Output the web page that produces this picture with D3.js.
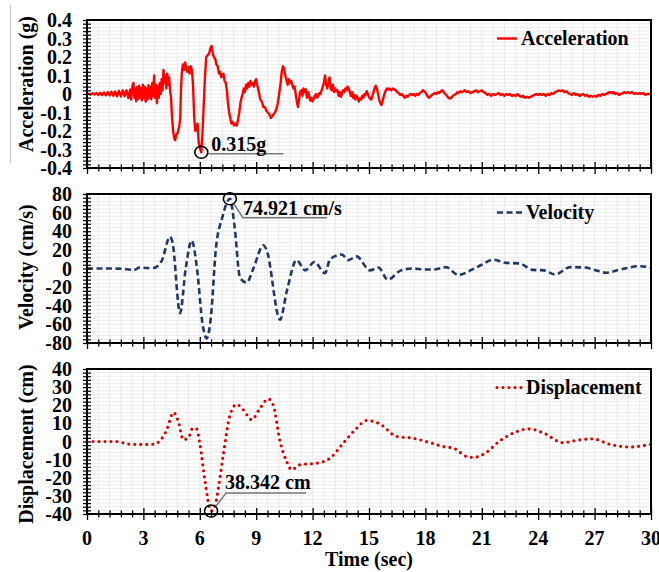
<!DOCTYPE html>
<html>
<head>
<meta charset="utf-8">
<script src="https://cdn.jsdelivr.net/npm/d3@7"></script>
<style>
body { margin: 0; background: #fff; }
svg { display: block; font-family: 'Liberation Serif', 'Times New Roman', serif; font-weight: bold; }
</style>
</head>
<body>
<div class="canvas"></div>
<script>
// time axis (sec)
const timeTicks = [0, 3, 6, 9, 12, 15, 18, 21, 24, 27, 30];

// y tick labels
const accelTicks = [0.4, 0.3, 0.2, 0.1, 0, -0.1, -0.2, -0.3, -0.4];
const velTicks = [80, 60, 40, 20, 0, -20, -40, -60, -80];
const dispTicks = [40, 30, 20, 10, 0, -10, -20, -30, -40];

// acceleration record [t (sec), a (g)]
const accel = [
[0,0],[0.1,0.002],[0.2,-0.003],[0.3,0.004],[0.4,-0.003],[0.5,0.005],[0.6,-0.005],[0.7,0.006],[0.8,-0.006],[0.9,0.008],
[1.0,-0.007],[1.1,0.01],[1.2,-0.008],[1.3,0.012],[1.4,-0.01],[1.5,0.013],[1.6,-0.012],[1.7,0.017],[1.8,-0.013],[1.9,0.019],
[2.0,-0.012],[2.1,0.02],[2.2,-0.022],[2.3,0.024],[2.35,-0.03],[2.42,0.045],[2.47,0.06],[2.52,-0.02],[2.57,0.03],[2.62,-0.04],
[2.67,0.038],[2.72,-0.028],[2.77,0.045],[2.82,-0.02],[2.87,0.032],[2.92,-0.034],[2.97,0.05],[3.02,-0.022],[3.07,0.04],[3.12,-0.042],
[3.17,0.03],[3.22,-0.03],[3.27,0.048],[3.32,-0.018],[3.37,0.038],[3.42,-0.028],[3.47,0.06],[3.52,-0.01],[3.57,0.1],[3.62,-0.02],
[3.67,0.05],[3.72,-0.05],[3.77,0.042],[3.82,-0.02],[3.87,0.06],[3.92,0.0],[3.97,0.08],[4.02,0.02],[4.07,0.13],[4.12,0.06],
[4.17,0.1],[4.22,0.03],[4.27,0.11],[4.32,0.05],[4.37,0.09],[4.42,0.02],[4.47,-0.02],[4.52,-0.12],[4.58,-0.2],[4.64,-0.24],
[4.69,-0.25],[4.75,-0.22],[4.82,-0.21],[4.9,-0.18],[4.96,-0.13],[5.0,0.03],[5.05,0.12],[5.1,0.16],[5.15,0.13],[5.22,0.17],
[5.28,0.14],[5.33,0.12],[5.4,0.145],[5.46,0.11],[5.52,0.15],[5.58,0.13],[5.64,0.05],[5.7,-0.12],[5.76,-0.2],[5.82,-0.19],
[5.88,-0.16],[5.94,-0.26],[6.0,-0.29],[6.08,-0.315],[6.14,-0.22],[6.2,-0.08],[6.27,0.08],[6.34,0.2],[6.42,0.21],[6.5,0.22],
[6.57,0.25],[6.63,0.26],[6.69,0.22],[6.75,0.2],[6.82,0.19],[6.88,0.16],[6.95,0.15],[7.02,0.11],[7.08,0.12],[7.14,0.09],
[7.2,0.1],[7.26,0.11],[7.32,0.07],[7.38,0.06],[7.44,0.02],[7.5,-0.05],[7.56,-0.1],[7.62,-0.13],[7.68,-0.16],[7.75,-0.15],
[7.82,-0.17],[7.9,-0.16],[7.97,-0.17],[8.03,-0.14],[8.1,-0.1],[8.16,-0.05],[8.22,-0.02],[8.28,0.0],[8.34,0.03],[8.4,0.01],
[8.46,0.05],[8.52,0.03],[8.58,0.06],[8.64,0.04],[8.7,0.07],[8.76,0.05],[8.82,0.06],[8.88,0.04],[8.94,0.07],[9.0,0.08],
[9.05,0.05],[9.1,0.03],[9.16,0.0],[9.22,-0.03],[9.3,-0.04],[9.38,-0.07],[9.46,-0.07],[9.54,-0.09],[9.62,-0.1],[9.7,-0.11],
[9.78,-0.13],[9.85,-0.12],[9.92,-0.11],[10.0,-0.1],[10.08,-0.08],[10.15,-0.05],[10.22,0.0],[10.3,0.06],[10.36,0.12],[10.42,0.15],
[10.48,0.14],[10.55,0.1],[10.62,0.07],[10.68,0.05],[10.74,0.08],[10.8,0.06],[10.86,0.07],[10.92,0.05],[10.98,0.03],[11.04,0.04],
[11.1,0.0],[11.16,-0.04],[11.22,-0.07],[11.28,-0.03],[11.34,0.01],[11.4,0.02],[11.46,-0.01],[11.52,0.03],[11.58,0.01],[11.64,0.025],
[11.7,-0.02],[11.76,0.01],[11.82,-0.01],[11.88,-0.035],[11.94,-0.02],[12.0,-0.04],[12.06,-0.025],[12.12,-0.01],[12.18,0.0],[12.24,-0.02],
[12.3,-0.01],[12.36,0.005],[12.42,0.0],[12.48,0.02],[12.54,0.04],[12.6,0.06],[12.66,0.1],[12.72,0.05],[12.78,0.03],[12.84,0.06],
[12.9,0.09],[12.96,0.03],[13.02,0.02],[13.08,0.05],[13.14,0.01],[13.2,0.03],[13.26,0.015],[13.32,0.02],[13.38,-0.01],[13.44,0.01],
[13.5,-0.015],[13.56,0.0],[13.62,0.02],[13.68,0.01],[13.74,0.03],[13.8,0.02],[13.86,0.04],[13.92,0.03],[13.98,0.01],[14.04,-0.01],
[14.1,0.01],[14.16,-0.02],[14.22,-0.005],[14.28,-0.03],[14.34,-0.01],[14.4,-0.02],[14.46,-0.04],[14.52,-0.025],[14.58,-0.03],[14.64,-0.01],
[14.7,-0.02],[14.76,0.0],[14.82,-0.005],[14.88,0.015],[14.94,0.0],[15.0,-0.015],[15.06,-0.025],[15.12,-0.03],[15.18,-0.01],[15.24,0.01],
[15.3,0.03],[15.36,0.045],[15.42,0.03],[15.48,0.0],[15.54,-0.03],[15.6,-0.05],[15.66,-0.06],[15.72,-0.04],[15.78,-0.015],[15.84,0.005],
[15.9,0.02],[15.96,0.03],[16.02,0.025],[16.1,0.03],[16.18,0.02],[16.26,0.03],[16.34,0.025],[16.42,0.02],[16.5,0.01],[16.58,0.005],
[16.66,-0.005],[16.74,0.0],[16.82,-0.01],[16.9,-0.02],[16.98,-0.01],[17.06,-0.015],[17.14,-0.005],[17.22,0.0],[17.3,-0.005],[17.38,0.0],
[17.46,-0.01],[17.54,0.0],[17.62,-0.005],[17.7,0.005],[17.78,0.01],[17.86,0.02],[17.94,0.015],[18.02,0.005],[18.1,-0.01],[18.18,-0.02],
[18.26,-0.015],[18.34,-0.005],[18.42,0.0],[18.5,0.005],[18.58,0.0],[18.66,0.01],[18.74,0.005],[18.82,0.015],[18.9,0.02],[18.98,0.01],
[19.06,0.0],[19.14,-0.01],[19.22,-0.02],[19.3,-0.025],[19.38,-0.02],[19.46,-0.01],[19.54,-0.005],[19.62,0.0],[19.7,0.01],[19.78,0.005],
[19.86,0.015],[19.94,0.01],[20.02,0.015],[20.1,0.02],[20.2,0.01],[20.3,0.015],[20.4,0.005],[20.5,0.01],[20.6,0.015],[20.7,0.02],
[20.8,0.01],[20.9,0.015],[21.0,0.02],[21.1,0.01],[21.2,0.005],[21.3,-0.005],[21.4,0.0],[21.5,-0.01],[21.6,0.0],[21.7,-0.005],
[21.8,0.0],[21.9,0.005],[22.0,-0.005],[22.1,0.0],[22.2,-0.01],[22.3,0.0],[22.4,-0.005],[22.5,0.0],[22.6,-0.01],[22.7,-0.005],
[22.8,-0.01],[22.9,0.0],[23.0,-0.01],[23.1,-0.015],[23.2,-0.01],[23.3,-0.02],[23.4,-0.015],[23.5,-0.02],[23.6,-0.015],[23.7,-0.01],
[23.8,-0.005],[23.9,0.0],[24.0,-0.005],[24.1,0.0],[24.2,-0.005],[24.3,0.0],[24.4,-0.01],[24.5,0.0],[24.6,-0.005],[24.7,0.005],
[24.8,0.0],[24.9,0.01],[25.0,0.015],[25.1,0.02],[25.2,0.015],[25.3,0.02],[25.4,0.01],[25.5,0.015],[25.6,0.005],[25.7,0.0],
[25.8,-0.005],[25.9,0.005],[26.0,-0.005],[26.1,0.0],[26.2,-0.01],[26.3,-0.005],[26.4,0.0],[26.5,-0.01],[26.6,-0.005],[26.7,-0.015],
[26.8,-0.01],[26.9,-0.015],[27.0,-0.01],[27.1,-0.015],[27.2,-0.005],[27.3,-0.01],[27.4,0.0],[27.5,-0.005],[27.6,0.0],[27.7,0.005],
[27.8,0.01],[27.9,0.005],[28.0,0.01],[28.1,0.0],[28.2,0.005],[28.3,-0.005],[28.4,0.0],[28.5,0.005],[28.6,0.01],[28.7,0.005],
[28.8,0.01],[28.9,0.005],[29.0,0.01],[29.1,0.0],[29.2,0.005],[29.3,0.0],[29.4,0.005],[29.5,0.0],[29.6,0.005],[29.7,-0.005],
[29.8,0.0],[29.9,0.0],[30.0,0.0]
];

// velocity [t (sec), v (cm/s)]
const velocity = [
[0,0],[1,0],[2,-0.5],[2.5,-1.5],[2.8,1],[3.2,0.5],[3.5,0.5],[3.97,8],[4.41,34],[4.55,28],
[4.95,-48],[5.25,0],[5.57,30],[5.85,0],[6.15,-60],[6.37,-75],[6.6,-50],[6.85,20],[7.2,55],[7.6,74.921],
[7.85,45],[8.14,-10],[8.5,-15],[8.85,0],[9.38,25],[9.55,20],[10.27,-55],[10.62,-25],[11.15,9],[11.6,-2],
[12.1,7],[12.66,-5],[12.93,10],[13.55,15],[13.9,9],[14.34,13],[15.05,-2],[15.5,1],[16.0,-12],[16.7,-2],
[17.3,0],[18.0,-1],[18.5,-1],[19.1,1.5],[19.75,-7],[20.5,-1],[21.0,4],[21.6,9.5],[22.3,6],[23.0,5.5],
[23.7,-1.5],[24.3,-2],[24.9,-6.5],[25.7,1.5],[26.5,1],[27.0,-1.5],[27.6,-4.5],[28.4,-1],[29.4,2.5],[30,1]
];

// displacement [t (sec), d (cm)]
const displacement = [
[0,0],[1.5,0],[2.3,-1.5],[3.0,-1.6],[3.53,-1.5],[3.88,0.4],[4.24,6.4],[4.6,16],[4.86,11],[5.12,1],
[5.39,2],[5.62,7.3],[5.83,7],[6.0,-1],[6.28,-22],[6.6,-38.342],[6.8,-36],[6.99,-25.7],[7.25,-7.3],[7.61,14.7],
[7.96,20.5],[8.32,17.4],[8.76,12],[9.2,18.3],[9.65,23.5],[9.91,20],[10.27,0],[10.62,-11],[10.88,-15.6],[11.33,-12.8],
[12.2,-12],[12.93,-9.2],[13.63,-0.9],[14.34,7.3],[14.87,11.6],[15.58,9.7],[16.47,2.8],[17.35,1.8],[18.24,-0.6],[18.95,-2.8],
[19.5,-3.7],[20.2,-8.3],[20.55,-8.8],[21.1,-7],[21.97,0.4],[22.86,5.5],[23.5,7],[24.3,4.6],[25.3,-0.6],[26.2,0.9],
[26.9,1.5],[27.8,-1.5],[28.9,-3],[30,-1.5]
];

const W = 659, H = 572;
const svg = d3.select('.canvas')
    .append('svg')
        .attr('width', W)
        .attr('height', H);

const x = d3.scaleLinear().domain([0, 30]).range([87, 651]);
const fmt = d => d === 0 ? '0' : (Math.abs(d) < 1 ? d.toFixed(1) : String(d));

const panels = [
    {data: accel, ticks: accelTicks, minor: 0.02, top: 20, bottom: 168, title: 'Acceleration (g)', titleY: 84,
     name: 'Acceleration', color: '#ff0000', width: 2.4, dash: null, cap: 'butt', curve: d3.curveLinear,
     peak: 'min', label: '0.315g'},
    {data: velocity, ticks: velTicks, minor: 4, top: 194, bottom: 343, title: 'Velocity (cm/s)', titleY: 267,
     name: 'Velocity', color: '#1f3864', width: 2.6, dash: '6,3.5', cap: 'butt', curve: d3.curveMonotoneX,
     peak: 'max', label: '74.921 cm/s'},
    {data: displacement, ticks: dispTicks, minor: 2, top: 369, bottom: 514, title: 'Displacement (cm)', titleY: 444,
     name: 'Displacement', color: '#dd0000', width: 3.2, dash: '0,6', cap: 'round', curve: d3.curveMonotoneX,
     peak: 'min', label: '38.342 cm'}
];

// faint frame line at far left of the top panel
svg.append('line')
    .attr('x1', 10.5).attr('x2', 10.5).attr('y1', 5).attr('y2', 163)
    .attr('stroke', '#c8c8c8').attr('stroke-width', 1);

panels.forEach((p, i) => {
    const lo = d3.min(p.ticks), hi = d3.max(p.ticks);
    const y = d3.scaleLinear().domain([lo, hi]).range([p.bottom, p.top]);
    const g = svg.append('g');

    // grid
    const hLines = d3.range(lo, hi + p.minor / 2, p.minor);
    g.append('g').selectAll('line')
        .data(hLines)
        .enter().append('line')
            .attr('x1', x(0)).attr('x2', x(30))
            .attr('y1', d => y(d)).attr('y2', d => y(d))
            .attr('stroke', '#e8e8e8').attr('stroke-width', 0.8);
    const vLines = d3.range(0, 30.01, 0.6);
    g.append('g').selectAll('line')
        .data(vLines)
        .enter().append('line')
            .attr('x1', d => x(d)).attr('x2', d => x(d))
            .attr('y1', p.top).attr('y2', p.bottom)
            .attr('stroke', '#e6e6e6').attr('stroke-width', 0.8);

    // series
    const line = d3.line()
        .x(d => x(d[0]))
        .y(d => y(d[1]))
        .curve(p.curve);
    g.append('path')
        .datum(p.data)
        .attr('d', line)
        .attr('fill', 'none')
        .attr('stroke', p.color)
        .attr('stroke-width', p.width)
        .attr('stroke-linecap', p.cap)
        .attr('stroke-linejoin', 'round')
        .attr('stroke-dasharray', p.dash);

    // frame
    g.append('rect')
        .attr('x', x(0)).attr('y', p.top)
        .attr('width', x(30) - x(0)).attr('height', p.bottom - p.top)
        .attr('fill', 'none').attr('stroke', '#000').attr('stroke-width', 2);

    // x axis ticks (crossing)
    const xAxis = g.append('g')
        .attr('transform', `translate(0,${p.bottom})`)
        .call(d3.axisBottom(x).tickValues(d3.range(0, 30.01, 0.6)).tickFormat('').tickSizeOuter(0));
    xAxis.select('.domain').remove();
    xAxis.selectAll('.tick line')
        .attr('y1', d => Math.abs(d / 3 - Math.round(d / 3)) < 1e-6 ? -6 : -3.5)
        .attr('y2', d => Math.abs(d / 3 - Math.round(d / 3)) < 1e-6 ? 6 : 3.5)
        .attr('stroke', '#000').attr('stroke-width', 1.3);

    // y axis minor/major ticks
    const yAxis = g.append('g')
        .attr('transform', `translate(${x(0)},0)`)
        .call(d3.axisLeft(y).tickValues(hLines).tickFormat('').tickSizeOuter(0));
    yAxis.select('.domain').remove();
    yAxis.selectAll('.tick line')
        .attr('x1', -4).attr('x2', 4)
        .attr('stroke', '#000').attr('stroke-width', 1.2);

    // y tick labels
    g.append('g').selectAll('text')
        .data(p.ticks)
        .enter().append('text')
            .attr('x', 72)
            .attr('y', d => y(d))
            .attr('dy', '0.35em')
            .attr('text-anchor', 'end')
            .attr('font-size', 20)
            .text(fmt);

    // y title
    g.append('text')
        .attr('transform', `translate(33,${p.titleY}) rotate(-90)`)
        .attr('text-anchor', 'middle')
        .attr('font-size', 20)
        .text(p.title);

    // legend
    const ly = p.top + 18.5;
    g.append('line')
        .attr('x1', 497).attr('x2', i === 0 ? 517 : 522)
        .attr('y1', ly).attr('y2', ly)
        .attr('stroke', p.color)
        .attr('stroke-width', p.width)
        .attr('stroke-linecap', p.cap)
        .attr('stroke-dasharray', p.dash);
    g.append('text')
        .attr('x', i === 0 ? 521 : 526)
        .attr('y', ly + 6.5)
        .attr('font-size', 20)
        .text(p.name);

    // peak annotation
    const pk = p.peak === 'min' ? d3.least(p.data, d => d[1]) : d3.greatest(p.data, d => d[1]);
    const cx = x(pk[0]), cy = y(pk[1]);
    const ann = g.append('g');
    ann.append('ellipse')
        .attr('cx', cx).attr('cy', cy).attr('rx', 6.5).attr('ry', 6)
        .attr('fill', 'none').attr('stroke', '#000').attr('stroke-width', 1.6);
    if (i === 0) {
        ann.append('path')
            .attr('d', `M${cx + 6.5},${cy + 1.5}H${cx + 82}`)
            .attr('stroke', '#777').attr('stroke-width', 1.5).attr('fill', 'none');
        ann.append('text').attr('x', cx + 10).attr('y', cy - 1.5).attr('font-size', 20).text(p.label);
    } else if (i === 1) {
        ann.append('path')
            .attr('d', `M${cx + 4},${cy + 5}L${cx + 13},${cy + 19}H${cx + 97}`)
            .attr('stroke', '#777').attr('stroke-width', 1.5).attr('fill', 'none');
        ann.append('text').attr('x', cx + 13).attr('y', cy + 16).attr('font-size', 20).text(p.label);
    } else {
        ann.append('path')
            .attr('d', `M${cx + 5},${cy - 5}L${cx + 15},${cy - 18}H${cx + 95}`)
            .attr('stroke', '#777').attr('stroke-width', 1.5).attr('fill', 'none');
        ann.append('text').attr('x', cx + 14).attr('y', cy - 22).attr('font-size', 20).text(p.label);
    }

    // x tick labels on the bottom panel only
    if (i === panels.length - 1) {
        g.append('g').selectAll('text')
            .data(timeTicks)
            .enter().append('text')
                .attr('x', d => x(d))
                .attr('y', p.bottom + 31)
                .attr('text-anchor', 'middle')
                .attr('font-size', 20)
                .text(d => d);
        g.append('text')
            .attr('x', (x(0) + x(30)) / 2)
            .attr('y', 566)
            .attr('text-anchor', 'middle')
            .attr('font-size', 20)
            .text('Time (sec)');
    }
});
</script>
</body>
</html>
